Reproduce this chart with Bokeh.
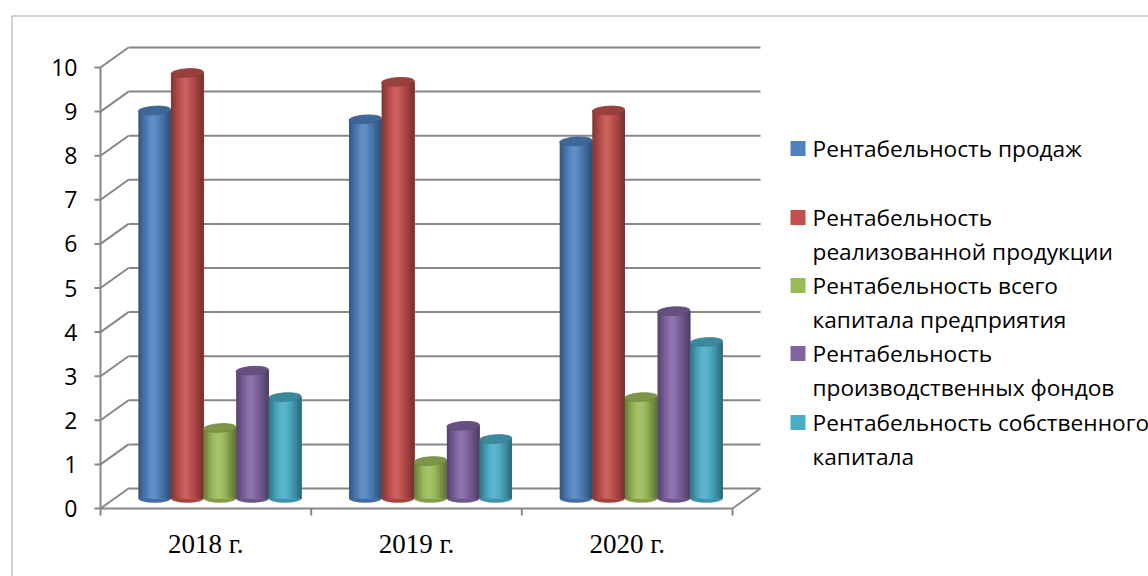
from bokeh.plotting import figure
from bokeh.models import Range1d
from bokeh.core.properties import value
from bokeh.embed import file_html
from bokeh.resources import INLINE

# ---------------- data ----------------
categories = ["2018 г.", "2019 г.", "2020 г."]
series_names = [
    "Рентабельность продаж",
    "Рентабельность реализованной продукции",
    "Рентабельность всего капитала предприятия",
    "Рентабельность производственных фондов",
    "Рентабельность собственного капитала",
]
legend_lines = [
    ["Рентабельность продаж"],
    ["Рентабельность", "реализованной продукции"],
    ["Рентабельность всего", "капитала предприятия"],
    ["Рентабельность", "производственных фондов"],
    ["Рентабельность собственного", "капитала"],
]
sales = [8.8, 8.6, 8.1]
realized = [9.65, 9.45, 8.8]
total_capital = [1.6, 0.85, 2.3]
production_funds = [2.9, 1.65, 4.25]
equity = [2.3, 1.35, 3.55]
y_ticks = [0, 1, 2, 3, 4, 5, 6, 7, 8, 9, 10]

series_values = [sales, realized, total_capital, production_funds, equity]
colors = ["#4F81BD", "#C0504D", "#9BBB59", "#8064A2", "#4BACC6"]

# ---------------- geometry (layout constants) ----------------
W, H = 1148, 576
PX0, PXU = 100.0, 210.67   # pixel of x=0, pixels per category
PY0, PYU = 508.0, 44.1     # pixel of y=0, pixels per unit
FL, FT = 10, 14            # frame left / top in pixels


def px2x(px):
    return (px - PX0) / PXU


def py2y(py):
    return (PY0 - py) / PYU


DXB, DYB = 28 / PXU, 20 / PYU           # back-wall depth offset
DXM, DYM = DXB / 2, DYB / 2             # bars sit mid-depth
BW = 32.6 / PXU                          # bar width
EH = 8.5 / PYU                           # ellipse height

p = figure(width=W, height=H, output_backend="svg", toolbar_location=None,
           x_range=Range1d(px2x(FL), px2x(W)), y_range=Range1d(py2y(H), py2y(FT)),
           x_axis_type=None, y_axis_type=None,
           min_border_left=FL, min_border_top=FT, min_border_right=0, min_border_bottom=0)
p.grid.visible = False
p.outline_line_color = None
p.background_fill_color = "white"
p.border_fill_color = "white"

GRID = "#878787"

# outer chart border (left and top visible)
p.segment(x0=[px2x(11.5), px2x(11.5)], y0=[py2y(15.5), py2y(15.5)],
          x1=[px2x(11.5), px2x(W + 5)], y1=[py2y(H + 5), py2y(15.5)],
          line_color="#a6a6a6", line_width=1)

# back wall gridlines and left-wall diagonals
n = len(categories)
p.segment(x0=[DXB] * len(y_ticks), y0=[v + DYB for v in y_ticks],
          x1=[n + DXB] * len(y_ticks), y1=[v + DYB for v in y_ticks],
          line_color=GRID, line_width=2)
p.segment(x0=[0] * len(y_ticks), y0=y_ticks,
          x1=[DXB] * len(y_ticks), y1=[v + DYB for v in y_ticks],
          line_color=GRID, line_width=2)
# floor right diagonal
p.segment(x0=[n], y0=[0], x1=[n + DXB], y1=[DYB], line_color=GRID, line_width=2)
# front vertical axis and category axis
p.segment(x0=[0], y0=[0], x1=[0], y1=[y_ticks[-1]], line_color=GRID, line_width=2)
p.segment(x0=[0], y0=[0], x1=[n], y1=[0], line_color=GRID, line_width=2)
# ticks
p.segment(x0=[px2x(PX0 - 6)] * len(y_ticks), y0=y_ticks, x1=[0] * len(y_ticks), y1=y_ticks,
          line_color=GRID, line_width=2)
p.segment(x0=list(range(n + 1)), y0=[0] * (n + 1), x1=list(range(n + 1)),
          y1=[py2y(PY0 + 7)] * (n + 1), line_color=GRID, line_width=2)


# ---------------- cylinders ----------------
profile = [0.70, 0.78, 0.87, 0.95, 1.01, 1.05, 1.07, 1.06, 1.03, 0.98, 0.92, 0.85, 0.78, 0.70, 0.64]


def shade(hexc, m):
    r, g, b = int(hexc[1:3], 16), int(hexc[3:5], 16), int(hexc[5:7], 16)
    if m <= 1:
        r, g, b = r * m, g * m, b * m
    else:
        f = (m - 1) * 1.6
        r, g, b = r + (255 - r) * f, g + (255 - g) * f, b + (255 - b) * f
    return "#%02x%02x%02x" % (int(min(255, r)), int(min(255, g)), int(min(255, b)))


ns = len(profile)
for j, (vals, col) in enumerate(zip(series_values, colors)):
    xc = [i + 0.5 + DXM + (j - 2) * BW for i in range(n)]
    base = DYM
    # bottom ellipse
    p.ellipse(x=xc, y=[base] * n, width=BW, height=EH, fill_color=shade(col, 0.85),
              line_color=None)
    # shaded body: overlapping strips (each runs to the right edge) to avoid seams
    L, R, B, T, C = [], [], [], [], []
    for i in range(n):
        x0 = xc[i] - BW / 2
        for k, m in enumerate(profile):
            L.append(x0 + BW * k / ns)
            R.append(x0 + BW)
            B.append(base)
            T.append(vals[i] + DYM)
            C.append(shade(col, m))
    p.quad(left=L, right=R, bottom=B, top=T, fill_color=C, line_color=None)
    # top ellipse
    p.ellipse(x=xc, y=[v + DYM for v in vals], width=BW, height=EH, angle=0.06,
              fill_color=shade(col, 0.8), line_color=shade(col, 0.72), line_width=0.8)

# ---------------- tick labels ----------------
p.text(x=[px2x(77)] * len(y_ticks), y=y_ticks, text=[str(v) for v in y_ticks],
       text_align="right", text_baseline="middle", text_font=value("Open Sans"),
       text_font_size="23px", text_color="#000000")
p.text(x=[i + 0.5 for i in range(n)], y=[py2y(543)] * n, text=categories,
       text_align="center", text_baseline="middle", text_font=value("Liberation Serif"),
       text_font_size="27px", text_color="#000000")

# ---------------- legend ----------------
leg_first_y = [148, 217, 285, 353, 422]
LINE_H = 33.5
p.scatter(x=[px2x(797.5)] * len(colors), y=[py2y(v) for v in leg_first_y], marker="square",
          size=15, fill_color=colors, line_color=None)
lx, ly, lt = [], [], []
for k, lines in enumerate(legend_lines):
    for r, t in enumerate(lines):
        lx.append(px2x(812))
        ly.append(py2y(leg_first_y[k] + r * LINE_H))
        lt.append(t)
p.text(x=lx, y=ly, text=lt, text_align="left", text_baseline="middle",
       text_font=value("Open Sans"), text_font_size="22.7px", text_color="#000000")

open("out.html", "w").write(file_html(p, INLINE))
